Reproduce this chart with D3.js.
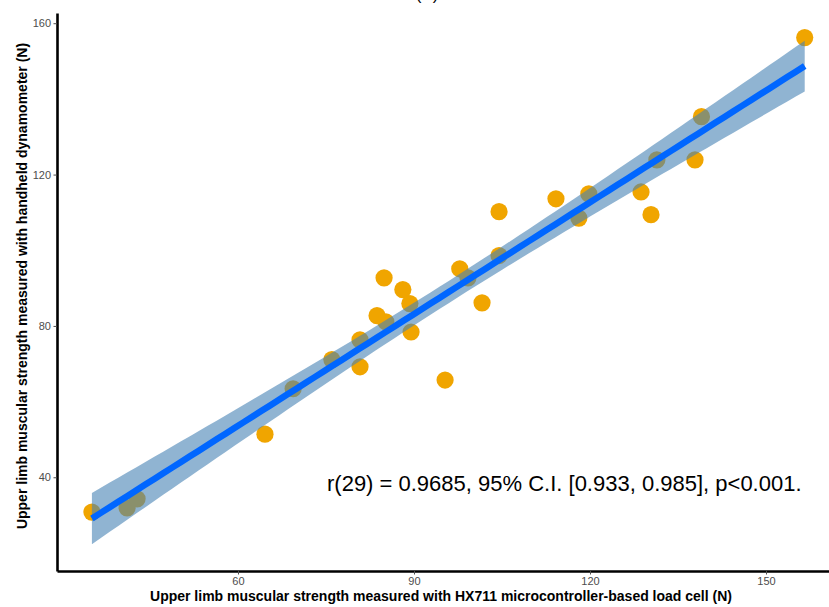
<!DOCTYPE html>
<html>
<head>
<meta charset="utf-8">
<script src="https://cdnjs.cloudflare.com/ajax/libs/d3/7.8.5/d3.min.js"></script>
<style>
  body { margin: 0; background: #fff; }
  svg { display: block; font-family: "Liberation Sans", Arial, sans-serif; }
</style>
</head>
<body>
<div id="chart"></div>
<script>
// load cell (x) vs handheld dynamometer (y)
const loadCell = [35.1, 41.1, 42.8, 64.6, 69.4, 76.0, 80.8, 80.8, 83.7, 85.2,
                  84.9, 88.1, 89.3, 89.5, 95.3, 97.8, 99.2, 101.6, 104.5, 104.5,
                  114.2, 118.1, 119.8, 128.7, 130.4, 131.4, 137.9, 139.0, 156.6];
const dynamometer = [30.8, 31.9, 34.3, 51.4, 63.4, 71.1, 76.3, 69.2, 82.7, 81.1,
                     92.7, 89.6, 85.9, 78.4, 65.7, 95.1, 92.7, 86.1, 110.2, 98.6,
                     113.6, 108.5, 114.9, 115.4, 109.4, 123.9, 123.9, 135.3, 156.2];
const xTicks = [60, 90, 120, 150];
const yTicks = [40, 80, 120, 160];
const statLabel = "r(29) = 0.9685, 95% C.I. [0.933, 0.985], p<0.001.";
const tCrit = 2.052; // t(0.975, df = 27)

const width = 829, height = 607;
const svg = d3.select("#chart").append("svg").attr("width", width).attr("height", height);

const x = d3.scaleLinear().domain([29.15, 160.74]).range([57, 829]);
const y = d3.scaleLinear().domain([15.23, 162.7]).range([571, 13]);

const pts = loadCell.map((v, i) => ({ x: v, y: dynamometer[i] }));

// least squares fit + confidence band (like geom_smooth(method = "lm"))
const n = pts.length;
const xbar = d3.mean(pts, d => d.x), ybar = d3.mean(pts, d => d.y);
const sxx = d3.sum(pts, d => (d.x - xbar) ** 2);
const sxy = d3.sum(pts, d => (d.x - xbar) * (d.y - ybar));
const slope = sxy / sxx, icpt = ybar - slope * xbar;
const sse = d3.sum(pts, d => (d.y - (icpt + slope * d.x)) ** 2);
const s = Math.sqrt(sse / (n - 2));

const xs = d3.range(0, 81).map(i => d3.min(loadCell) + i * (d3.max(loadCell) - d3.min(loadCell)) / 80);
const band = xs.map(v => {
    const fit = icpt + slope * v;
    const se = s * Math.sqrt(1 / n + (v - xbar) ** 2 / sxx);
    return { x: v, fit: fit, lo: fit - tCrit * se, hi: fit + tCrit * se };
});

// title (cut off at top)
svg.append("text").attr("x", 427).attr("y", 0).attr("text-anchor", "middle")
   .style("font-size", "17px").attr("fill", "#000").text("(A)");

// points
svg.append("g").selectAll("circle").data(pts).enter().append("circle")
   .attr("cx", d => x(d.x)).attr("cy", d => y(d.y)).attr("r", 8.6)
   .attr("fill", "#f0a500");

// ribbon
svg.append("path").datum(band)
   .attr("d", d3.area().x(d => x(d.x)).y0(d => y(d.lo)).y1(d => y(d.hi)))
   .attr("fill", "steelblue").attr("fill-opacity", 0.6);

// fit line
svg.append("path").datum(band)
   .attr("d", d3.line().x(d => x(d.x)).y(d => y(d.fit)))
   .attr("fill", "none").attr("stroke", "#0066ff").attr("stroke-width", 6.5);

// axes
const xAxis = svg.append("g").attr("transform", "translate(0,571)")
   .call(d3.axisBottom(x).tickValues(xTicks).tickSize(3.5).tickPadding(3).tickSizeOuter(0));
const yAxis = svg.append("g").attr("transform", "translate(57,0)")
   .call(d3.axisLeft(y).tickValues(yTicks).tickSize(3.5).tickPadding(2.5).tickSizeOuter(0));
[xAxis, yAxis].forEach(a => {
    a.select(".domain").attr("stroke", "#000").attr("stroke-width", 2.6);
    a.selectAll(".tick line").attr("stroke", "#4d4d4d").attr("stroke-width", 1);
    a.selectAll(".tick text").attr("fill", "#4d4d4d")
     .style("font-size", "11px").style("font-family", "'Liberation Sans', Arial, sans-serif");
});

// axis titles
svg.append("text").attr("x", 441).attr("y", 601).attr("text-anchor", "middle")
   .style("font-size", "14px").style("font-weight", "bold")
   .text("Upper limb muscular strength measured with HX711 microcontroller-based load cell (N)");
svg.append("text").attr("transform", "translate(27,286) rotate(-90)").attr("text-anchor", "middle")
   .style("font-size", "14px").style("font-weight", "bold")
   .text("Upper limb muscular strength measured with handheld dynamometer (N)");

// stats annotation
svg.append("text").attr("x", 327).attr("y", 491)
   .style("font-size", "22px").attr("fill", "#000").text(statLabel);
</script>
</body>
</html>
